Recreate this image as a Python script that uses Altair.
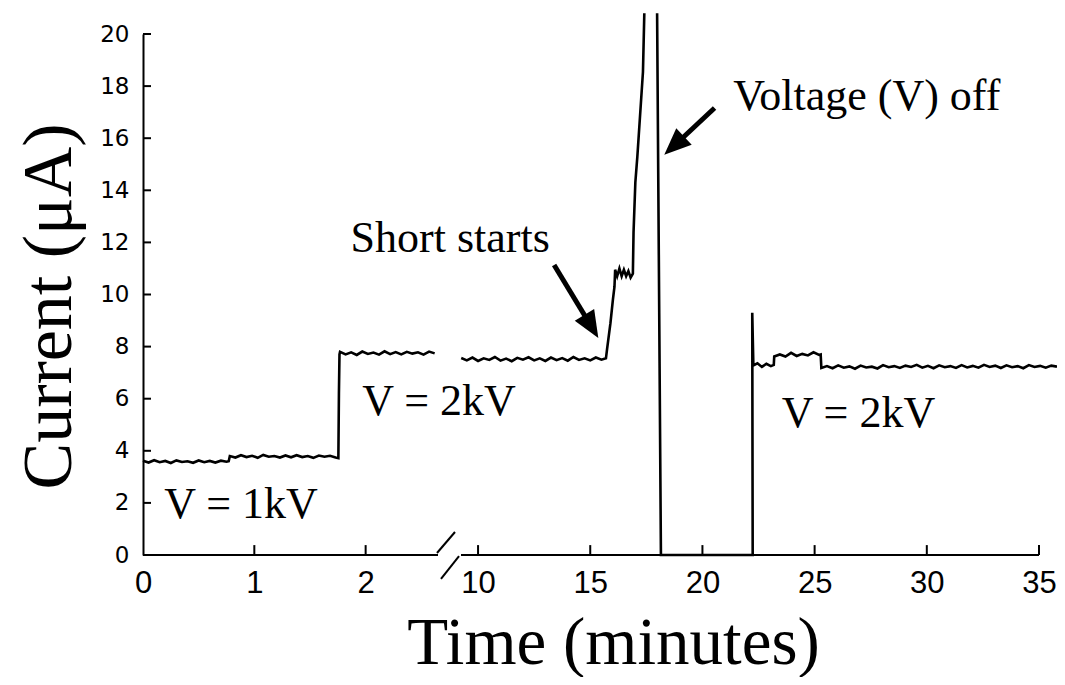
import altair as alt
import pandas as pd

# ---------------- data ----------------
# trace before the axis break (minutes, µA)
t_left = [0.00, 0.05, 0.10, 0.15, 0.20, 0.25, 0.30, 0.35, 0.40, 0.45, 0.50, 0.55, 0.60, 0.65, 0.70, 0.75,
          0.77, 0.78, 0.83, 0.88, 0.93, 0.98, 1.03, 1.08, 1.13, 1.18, 1.23, 1.28, 1.33, 1.38, 1.43, 1.48,
          1.53, 1.58, 1.63, 1.68, 1.73,
          1.755, 1.76, 1.765,
          1.77, 1.82, 1.87, 1.92, 1.97, 2.02, 2.07, 2.12, 2.17, 2.22, 2.27, 2.32, 2.37, 2.42, 2.47, 2.52, 2.57, 2.62]
i_left = [3.62, 3.55, 3.64, 3.56, 3.61, 3.53, 3.63, 3.57, 3.60, 3.54, 3.63, 3.56, 3.61, 3.55, 3.62, 3.58,
          3.60, 3.80, 3.74, 3.83, 3.76, 3.81, 3.73, 3.84, 3.77, 3.80, 3.74, 3.82, 3.75, 3.83, 3.76, 3.80,
          3.73, 3.82, 3.77, 3.81, 3.74,
          3.72, 6.20, 7.70,
          7.80, 7.70, 7.78, 7.68, 7.81, 7.72, 7.77, 7.69, 7.82, 7.71, 7.79, 7.70, 7.80, 7.73, 7.78, 7.69, 7.81, 7.74]

# trace after the break, up to the short
t_short = [9.25, 9.50, 9.75, 10.00, 10.25, 10.50, 10.75, 11.00, 11.25, 11.50, 11.75, 12.00, 12.25, 12.50,
           12.75, 13.00, 13.25, 13.50, 13.75, 14.00, 14.25, 14.50, 14.75, 15.00, 15.25, 15.50, 15.70,
           15.75, 15.90, 16.01, 16.08, 16.11, 16.20, 16.30, 16.40, 16.50, 16.60, 16.70, 16.80, 16.90,
           16.93, 17.01, 17.10, 17.35, 17.41]
i_short = [7.56, 7.47, 7.58, 7.45, 7.55, 7.49, 7.60, 7.46, 7.54, 7.44, 7.57, 7.50, 7.59, 7.47,
           7.55, 7.45, 7.58, 7.48, 7.56, 7.46, 7.60, 7.49, 7.55, 7.47, 7.58, 7.50, 7.55,
           7.90, 8.90, 9.80, 10.30, 10.95, 10.70, 11.00, 10.70, 10.95, 10.70, 10.90, 10.65, 10.80,
           12.40, 14.30, 15.30, 18.55, 20.80]

# trace from voltage off to the end
t_after = [17.98, 18.15, 22.24, 22.22, 22.27, 22.45, 22.65, 22.85, 23.05, 23.18, 23.20, 23.45, 23.70,
           23.95, 24.20, 24.45, 24.70, 24.95, 25.20, 25.27, 25.30,
           25.55, 25.80, 26.05, 26.30, 26.55, 26.80, 27.05, 27.30, 27.55, 27.80,
           28.05, 28.30, 28.55, 28.80, 29.05, 29.30, 29.55, 29.80, 30.05, 30.30,
           30.55, 30.80, 31.05, 31.30, 31.55, 31.80, 32.05, 32.30, 32.55, 32.80,
           33.05, 33.30, 33.55, 33.80, 34.05, 34.30, 34.55, 34.80, 35.05, 35.30,
           35.55, 35.80]
i_after = [20.80, 0.00, 0.00, 9.30, 7.28, 7.36, 7.22, 7.34, 7.25, 7.30, 7.62, 7.70, 7.62,
           7.76, 7.64, 7.72, 7.66, 7.78, 7.68, 7.70, 7.18,
           7.25, 7.17, 7.28, 7.19, 7.24, 7.15, 7.27, 7.20, 7.23, 7.16,
           7.29, 7.21, 7.25, 7.18, 7.27, 7.22, 7.30, 7.19, 7.26, 7.17,
           7.28, 7.21, 7.25, 7.18, 7.29, 7.20, 7.26, 7.19, 7.30, 7.22,
           7.27, 7.18, 7.28, 7.21, 7.25, 7.17, 7.29, 7.22, 7.26, 7.19,
           7.27, 7.23]

# axes
x_ticks = [0, 1, 2, 10, 15, 20, 25, 30, 35]
y_ticks = [0, 2, 4, 6, 8, 10, 12, 14, 16, 18, 20]
x_break_domain = [0, 2.65, 9.24, 35]

# annotations
note_text = ["Short starts", "Voltage (V) off", "V = 1kV", "V = 2kV", "V = 2kV"]
note_t = [1.865, 21.37, 0.19, 1.97, 23.53]
note_i = [11.63, 17.08, 1.42, 5.37, 4.91]

arrow_t1 = [13.39, 20.54]
arrow_i1 = [11.13, 17.16]
arrow_t2 = [15.01, 18.79]
arrow_i2 = [8.83, 15.75]
head_t = [15.36, 18.30]
head_i = [8.33, 15.36]
head_angle = [149, 227]

# axis break slashes and axis-line pieces (data units)
slash_t1 = [2.641, 3.51]
slash_i1 = [0.077, -0.92]
slash_t2 = [7.52, 8.67]
slash_i2 = [0.883, -0.04]
axis_t1 = [0, 9.24]
axis_t2 = [2.65, 35]

# ---------------- tables ----------------
rows = []
for seg, ts, vs in [("a", t_left, i_left), ("b", t_short, i_short), ("c", t_after, i_after)]:
    for t, v in zip(ts, vs):
        rows.append({"seg": seg, "t": t, "i": v})
trace = pd.DataFrame(rows)
trace["idx"] = range(len(trace))

notes = pd.DataFrame({"t": note_t, "i": note_i, "text": note_text})
arrows = pd.DataFrame({"t": arrow_t1, "i": arrow_i1, "t2": arrow_t2, "i2": arrow_i2})
heads = pd.DataFrame({"t": head_t, "i": head_i, "ang": head_angle})
slashes = pd.DataFrame({"t": slash_t1, "i": slash_i1, "t2": slash_t2, "i2": slash_i2})
axis_line = pd.DataFrame({"t": axis_t1, "t2": axis_t2, "i": [0, 0]})
xt = pd.DataFrame({"t": x_ticks[1:], "i": [0] * 8, "i2": [0.38] * 8})
yt = pd.DataFrame({"i": y_ticks[1:], "t": [0] * 10, "t2": [0.072] * 10})

PLOT_W, PLOT_H = 896, 521

x_scale = alt.Scale(domain=x_break_domain, range=[0, 295, 318, PLOT_W], nice=False, zero=False)
y_scale = alt.Scale(domain=[0, 20], nice=False, zero=False)

x_axis = alt.Axis(values=x_ticks, domain=False, ticks=False, grid=False, labelFlush=False,
                  labelFont="Liberation Sans", labelFontSize=31, labelColor="black", labelPadding=13,
                  title="Time (minutes)", titleFont="Liberation Serif", titleFontSize=67,
                  titleFontWeight="normal", titleColor="black", titlePadding=12, titleX=470)
y_axis = alt.Axis(values=y_ticks, domain=True, domainColor="black", domainWidth=2, ticks=False,
                  grid=False, labelFlush=False, labelFont="DejaVu Sans", labelFontSize=23,
                  labelColor="black", labelPadding=14,
                  title="Current (μA)", titleFont="Liberation Serif", titleFontSize=70,
                  titleFontWeight="normal", titleColor="black", titlePadding=14, titleY=272)


def X(f="t"):
    return alt.X(f + ":Q", scale=x_scale, axis=x_axis)


def Y(f="i"):
    return alt.Y(f + ":Q", scale=y_scale, axis=y_axis)


line = alt.Chart(trace).mark_line(color="black", strokeWidth=2.6, strokeJoin="miter").encode(
    x=X(), y=Y(), detail="seg:N", order=alt.Order("idx:Q"))

axis_rules = alt.Chart(axis_line).mark_rule(color="black", strokeWidth=2).encode(
    x=X(), x2="t2:Q", y=Y())

x_tick_rules = alt.Chart(xt).mark_rule(color="black", strokeWidth=2).encode(
    x=X(), y=Y(), y2="i2:Q")
y_tick_rules = alt.Chart(yt).mark_rule(color="black", strokeWidth=2).encode(
    x=X(), x2="t2:Q", y=Y())

slash_rules = alt.Chart(slashes).mark_rule(color="black", strokeWidth=2).encode(
    x=X(), y=Y(), x2="t2:Q", y2="i2:Q")

text = alt.Chart(notes).mark_text(font="Liberation Serif", fontSize=44, align="left",
                                  baseline="alphabetic", color="black").encode(
    x=X(), y=Y(), text="text:N")

arrow_lines = alt.Chart(arrows).mark_rule(color="black", strokeWidth=5, strokeCap="butt").encode(
    x=X(), y=Y(), x2="t2:Q", y2="i2:Q")

arrow_heads = alt.Chart(heads).mark_point(shape="M0,0L-0.42,1L0.42,1Z", filled=True, color="black",
                                          opacity=1, size=2900, strokeWidth=0).encode(
    x=X(), y=Y(), angle=alt.Angle("ang:Q", scale=None))

chart = alt.layer(
    axis_rules, x_tick_rules, y_tick_rules, slash_rules, line, text, arrow_lines, arrow_heads
).properties(
    width=PLOT_W, height=PLOT_H,
    autosize=alt.AutoSizeParams(type="none"),
    padding={"left": 135, "top": 26, "right": 18, "bottom": 122},
    background="white",
).configure_view(stroke=None)

chart.save("out.html", embed_options={"renderer": "svg", "actions": False})
